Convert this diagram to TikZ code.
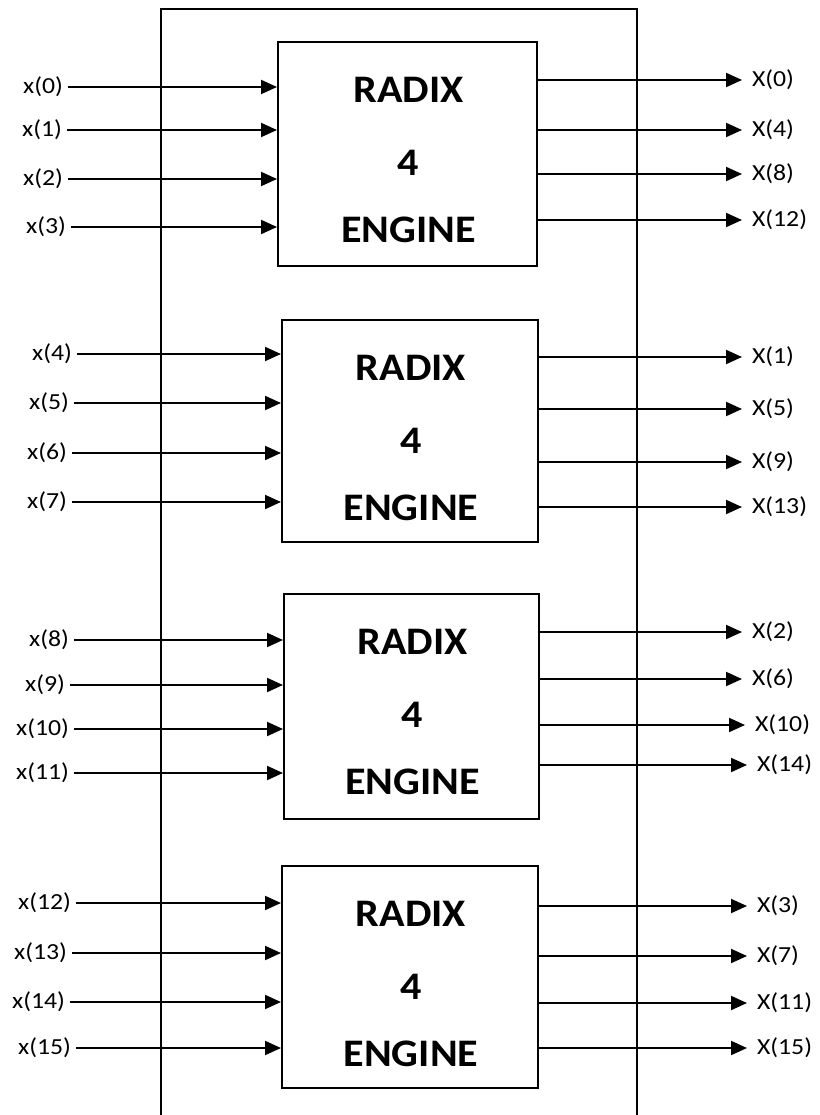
\documentclass[tikz,border=0pt]{standalone}
\usepackage{fontspec}
\setmainfont{Carlito}
\newfontfamily\labfont[FakeStretch=1.12]{Carlito}
\newfontfamily\boxfont[FakeStretch=1.08]{Carlito}
\usetikzlibrary{arrows.meta}
\begin{document}
\begin{tikzpicture}[x=1pt,y=-1pt,
  line width=2pt,
  arr/.style={-{Triangle[length=16pt,width=14pt]}},
  engine/.style={draw,line width=1.8pt,anchor=north west,inner sep=0pt},
  etext/.style={font=\boxfont\bfseries\fontsize{39}{39}\selectfont,anchor=center,inner sep=0pt},
  inlab/.style={font=\labfont\fontsize{23}{23}\selectfont,anchor=east,inner xsep=5pt,inner ysep=0pt,outer sep=0pt},
  outlab/.style={font=\labfont\fontsize{23}{23}\selectfont,anchor=west,inner xsep=10pt,inner ysep=0pt,outer sep=0pt}]
\useasboundingbox (0,0) rectangle (819,1115);
% outer frame, open at the bottom
\draw[line width=1.8pt] (161,1115) -- (161,9) -- (637,9) -- (637,1115);
% engines: name, left, top, right, bottom
\foreach \n/\l/\t/\r/\b in {1/277/41/536/265, 2/281/319/537/541, 3/283/593/538/818, 4/281/865/537/1087}{
  \node[engine,minimum width={\r-\l}, minimum height={\b-\t}] (b\n) at (\l,\t) {};
  \node[etext] (r\n) at ({(\l+\r)/2+2},\t+49) {RADIX};
  \node[etext] (f\n) at ({(\l+\r)/2+2},\t+122) {4};
  \node[etext] (e\n) at ({(\l+\r)/2+2},\t+189) {ENGINE};
}
% inputs: box, index, start x, y
\foreach \n/\i/\sx/\y in {1/0/68/87, 1/1/67/130, 1/2/68/179, 1/3/71/227,
  2/4/77/354, 2/5/74/403, 2/6/72/453, 2/7/72/502,
  3/8/74/640, 3/9/70/685, 3/10/74/729, 3/11/74/773,
  4/12/76/903, 4/13/72/953, 4/14/70/1002, 4/15/76/1048}{
  \node[inlab] (lx\i) at (\sx,\y) {x(\i)};
  \draw[arr] (lx\i.east) -- (lx\i.east -| b\n.west);
}
% outputs: box, index, tip x, y
\foreach \n/\i/\tx/\y in {1/0/742/80, 1/4/742/130, 1/8/742/174, 1/12/742/220,
  2/1/742/357, 2/5/742/409, 2/9/742/462, 2/13/742/507,
  3/2/742/632, 3/6/742/679, 3/10/745/725, 3/14/747/765,
  4/3/747/906, 4/7/747/956, 4/11/747/1003, 4/15/747/1048}{
  \node[outlab] (ly\i) at (\tx,\y) {X(\i)};
  \draw[arr] (ly\i.west -| b\n.east) -- (ly\i.west);
}
\end{tikzpicture}
\end{document}
